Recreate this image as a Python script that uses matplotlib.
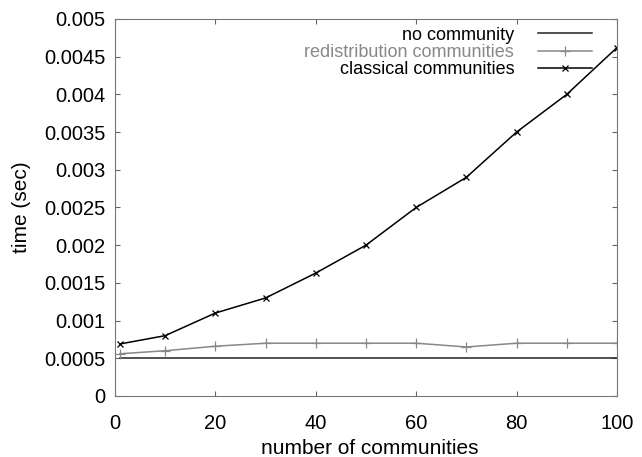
import matplotlib.pyplot as plt

plt.rcParams['font.family'] = ['Liberation Sans', 'DejaVu Sans']

# data
n_comm = [1, 10, 20, 30, 40, 50, 60, 70, 80, 90, 100]
no_comm = [0.0005] * 11
redist = [0.00056, 0.0006, 0.00066, 0.0007, 0.0007, 0.0007, 0.0007, 0.00065, 0.0007, 0.0007, 0.0007]
classical = [0.00069, 0.0008, 0.0011, 0.0013, 0.00163, 0.002, 0.0025, 0.0029, 0.0035, 0.004, 0.00462]
yticks = [0, 0.0005, 0.001, 0.0015, 0.002, 0.0025, 0.003, 0.0035, 0.004, 0.0045, 0.005]
ylabels = ["0", "0.0005", "0.001", "0.0015", "0.002", "0.0025", "0.003", "0.0035", "0.004", "0.0045", "0.005"]

fig = plt.figure(figsize=(6.42, 4.57), dpi=100)
ax = fig.add_axes([0.179, 0.1335, 0.782, 0.825])

ax.plot(n_comm, no_comm, color="#222222", lw=1.1, label="no community")
ax.plot(n_comm, redist, color="#888888", lw=1.1, marker="+", ms=7, mew=0.9, label="redistribution communities")
ax.plot(n_comm, classical, color="black", lw=1.1, marker="x", ms=5, mew=0.9, label="classical communities")

ax.set_xlim(0, 100)
ax.set_ylim(0, 0.005)
ax.set_xticks(range(0, 101, 20))
ax.set_yticks(yticks)
ax.set_yticklabels(ylabels)
ax.tick_params(direction="in", top=True, right=True, labelsize=14.5, length=3.5, color="#666666", width=0.8)
ax.tick_params(axis="y", pad=7)
ax.tick_params(axis="x", pad=13)
for s in ax.spines.values():
    s.set_color("#777777")

ax.set_xlabel("number of communities", fontsize=15, labelpad=4)
ax.set_ylabel("time (sec)", fontsize=15, labelpad=9)
ax.xaxis.set_label_coords(0.508, -0.115)

leg = ax.legend(loc="upper right", bbox_to_anchor=(0.950, 0.980), frameon=False, markerfirst=False,
                fontsize=13, handlelength=3.0, handletextpad=1.3, labelspacing=0.02,
                borderpad=0, borderaxespad=0)
for t, c in zip(leg.get_texts(), ["black", "#888888", "black"]):
    t.set_color(c)

fig.savefig("out.png")
